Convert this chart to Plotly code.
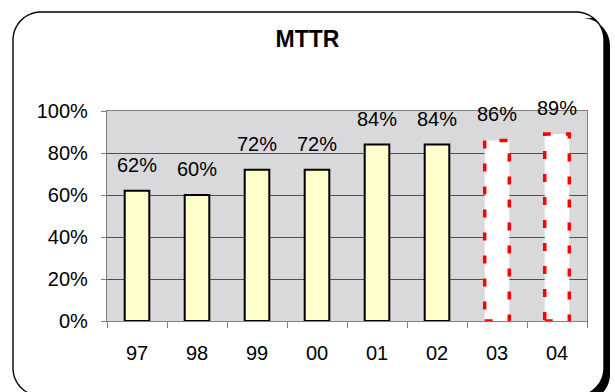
import math
import plotly.graph_objects as go

# MTTR per year (percent); the last two years are targets
years = ["97", "98", "99", "00", "01", "02", "03", "04"]
mttr = [62, 60, 72, 72, 84, 84, 86, 89]
is_target = [False, False, False, False, False, False, True, True]
y_ticks = [0, 20, 40, 60, 80, 100]

W, H = 615, 392
ML, MR, MT, MB = 107, 28, 111, 71
PW, PH = W - ML - MR, H - MT - MB
BAR_W = 0.41
FONT = "Arial, Liberation Sans, sans-serif"

pos = list(range(len(years)))              # slot index of each year
edges = [p - 0.5 for p in pos] + [pos[-1] + 0.5]   # slot boundaries for tick marks

# chart-area frame (pixels) and its drop shadow offset
FL, FT, FR, FB, RAD = 13, 12, 604, 396, 28
SH = 6


def px(x):
    return (x - ML) / PW


def py(y):
    return (H - MB - y) / PH


def to_path(points, close=True):
    s = " ".join(("M" if i == 0 else "L") + f" {px(x):.5f},{py(y):.5f}"
                 for i, (x, y) in enumerate(points))
    return s + (" Z" if close else "")


def arc(cx, cy, r, a0, a1, n=24):
    return [(cx + r * math.cos(math.radians(a0 + (a1 - a0) * k / n)),
             cy - r * math.sin(math.radians(a0 + (a1 - a0) * k / n)))
            for k in range(n + 1)]


def frame_points(l, t, r, b, rad):
    pts = []
    pts += arc(l + rad, t + rad, rad, 180, 90)
    pts += arc(r - rad, t + rad, rad, 90, 0)
    pts += arc(r - rad, b - rad, rad, 0, -90)
    pts += arc(l + rad, b - rad, rad, -90, -180)
    return pts


def shadow_points():
    # region of the offset frame that sticks out right of / below the frame
    th = math.degrees(math.asin((RAD - SH) / RAD))
    pts = [(FR - RAD + RAD * math.cos(math.radians(th)), FT + SH)]
    pts += arc(FR + SH - RAD, FT + SH + RAD, RAD, 90, 0)
    pts += arc(FR + SH - RAD, FB + SH - RAD, RAD, 0, -90)
    pts += [(FL + RAD, FB + SH), (FL + RAD, FB)]
    pts += arc(FR - RAD, FB - RAD, RAD, -90, 0)
    pts += arc(FR - RAD, FT + RAD, RAD, 0, th)
    return pts


fig = go.Figure()

# actual years
fig.add_trace(go.Bar(
    x=[p for p, t in zip(pos, is_target) if not t],
    y=[v for v, t in zip(mttr, is_target) if not t],
    width=BAR_W,
    marker=dict(color="#FFFFCC", line=dict(color="black", width=2)),
    hoverinfo="skip",
))
# target years: white fill, outline drawn as dashed shapes below
fig.add_trace(go.Bar(
    x=[p for p, t in zip(pos, is_target) if t],
    y=[v for v, t in zip(mttr, is_target) if t],
    width=BAR_W,
    marker=dict(color="white", line=dict(width=0)),
    hoverinfo="skip",
))

shapes = [
    dict(type="path", xref="paper", yref="paper", layer="below",
         path=to_path(shadow_points()),
         fillcolor="black", line=dict(width=0)),
    dict(type="path", xref="paper", yref="paper", layer="below",
         path=to_path(frame_points(FL, FT, FR, FB, RAD)),
         fillcolor="rgba(0,0,0,0)", line=dict(color="black", width=1.4)),
]

for p, v, t in zip(pos, mttr, is_target):
    if t:
        shapes.append(dict(
            type="rect", xref="x", yref="y", layer="above",
            x0=p - BAR_W / 2, x1=p + BAR_W / 2, y0=0, y1=v,
            line=dict(color="#FF0000", width=3.5, dash="8px,15px"),
        ))

annotations = [
    dict(x=p, y=v, xref="x", yref="y", text=f"{v}%", showarrow=False,
         yanchor="bottom", yshift=13, font=dict(family=FONT, size=20, color="black"))
    for p, v in zip(pos, mttr)
]

fig.update_layout(
    width=W, height=H, autosize=False,
    margin=dict(l=ML, r=MR, t=MT, b=MB, pad=0),
    paper_bgcolor="white",
    plot_bgcolor="#d9d9dc",
    showlegend=False,
    barmode="overlay",
    shapes=shapes,
    annotations=annotations,
    title=dict(text="<b>MTTR</b>", x=0.5, xref="container", xanchor="center",
               y=1 - 39 / H, yref="container", yanchor="middle",
               font=dict(family=FONT, size=23, color="black")),
    font=dict(family=FONT, size=20, color="black"),
)

fig.update_xaxes(
    range=[edges[0], edges[-1]],
    showgrid=False, zeroline=False,
    showline=True, linecolor="#808080", linewidth=1.2, mirror=True,
    tickmode="array", tickvals=pos, ticktext=years, ticks="",
    ticklabelstandoff=14,
    tickfont=dict(family=FONT, size=20, color="black"),
    minor=dict(tickmode="array", tickvals=edges, ticks="outside", ticklen=6,
               tickcolor="#808080", tickwidth=1.2, showgrid=False),
)
fig.update_yaxes(
    range=[0, 100],
    tickmode="array", tickvals=y_ticks, ticktext=[f"{v}%" for v in y_ticks],
    showgrid=True, gridcolor="#505050", gridwidth=1.2,
    zeroline=False,
    showline=True, linecolor="#808080", linewidth=1.2, mirror=True,
    ticks="outside", ticklen=5, tickcolor="#808080", tickwidth=1.2,
    ticklabelstandoff=9,
    tickfont=dict(family=FONT, size=20, color="black"),
)

fig.write_html("out.html")
